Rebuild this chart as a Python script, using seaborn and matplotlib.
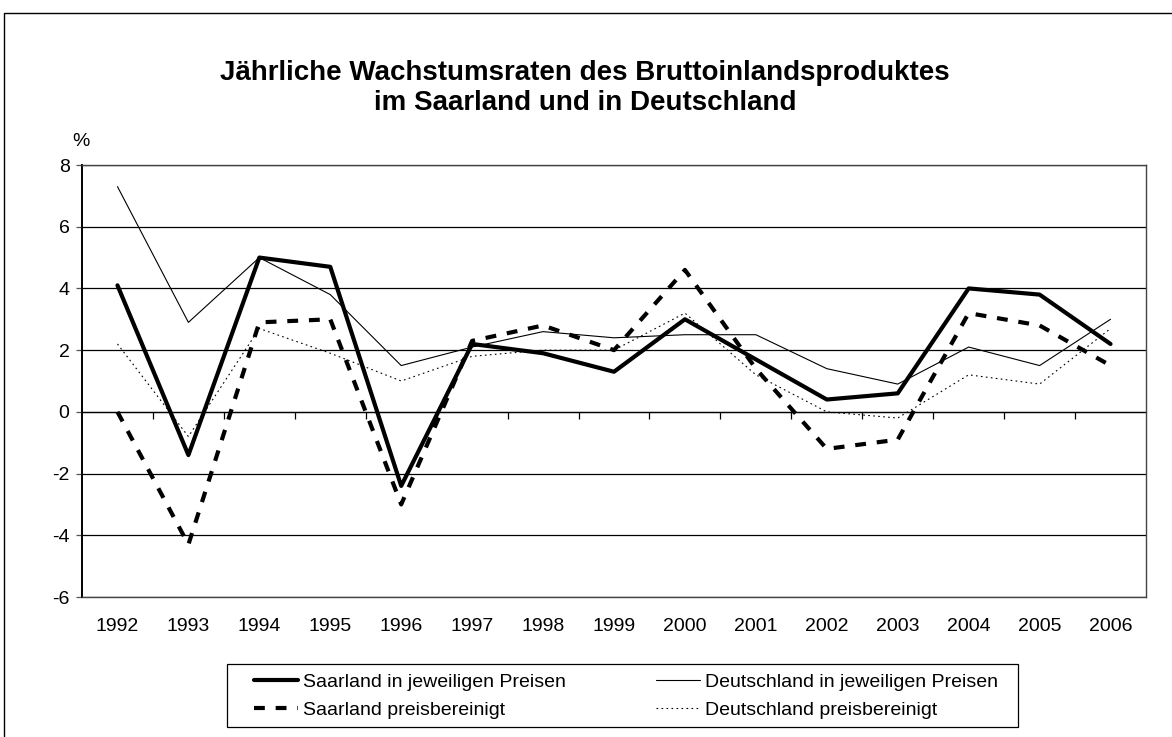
import matplotlib
matplotlib.use("Agg")
import matplotlib.pyplot as plt
import matplotlib.patches as mpatches
import seaborn as sns
import pandas as pd
import numpy as np

years = ["1992", "1993", "1994", "1995", "1996", "1997", "1998", "1999",
         "2000", "2001", "2002", "2003", "2004", "2005", "2006"]
saar_nominal = [4.1, -1.4, 5.0, 4.7, -2.4, 2.2, 1.9, 1.3, 3.0, 1.7, 0.4, 0.6, 4.0, 3.8, 2.2]
de_nominal = [7.3, 2.9, 5.0, 3.8, 1.5, 2.1, 2.6, 2.4, 2.5, 2.5, 1.4, 0.9, 2.1, 1.5, 3.0]
saar_real = [0.0, -4.3, 2.9, 3.0, -3.0, 2.3, 2.8, 2.0, 4.6, 1.4, -1.2, -0.9, 3.2, 2.8, 1.5]
de_real = [2.2, -0.8, 2.7, 1.9, 1.0, 1.8, 2.0, 2.0, 3.2, 1.2, 0.0, -0.2, 1.2, 0.9, 2.7]
labels = ["Saarland in jeweiligen Preisen", "Saarland preisbereinigt",
          "Deutschland in jeweiligen Preisen", "Deutschland preisbereinigt"]
title_lines = ["Jährliche Wachstumsraten des Bruttoinlandsproduktes",
               "im Saarland und in Deutschland"]
yticks = [-6, -4, -2, 0, 2, 4, 6, 8]

sns.set_theme(style="white")
plt.rcParams["font.family"] = ["Liberation Sans", "DejaVu Sans"]
plt.rcParams["text.color"] = "black"
plt.rcParams["xtick.color"] = "black"
plt.rcParams["ytick.color"] = "black"
plt.rcParams["xtick.labelcolor"] = "black"
plt.rcParams["ytick.labelcolor"] = "black"

W, H = 1172, 737
fig = plt.figure(figsize=(W / 100, H / 100), dpi=100)
ax = fig.add_axes([82 / W, 1 - 597 / H, (1146 - 82) / W, (597 - 165) / H])

pos = np.arange(len(years))
df = pd.DataFrame({"pos": pos, "sn": saar_nominal, "dn": de_nominal,
                   "sr": saar_real, "dr": de_real})

ax.set_ylim(-6, 8)
ax.set_xlim(-0.5, len(years) - 0.5)
for y in yticks:
    ax.axhline(y, color="black", lw=0.9, zorder=1)

sns.lineplot(data=df, x="pos", y="sn", ax=ax, color="black", lw=3.0,
             label=labels[0], zorder=5)
sns.lineplot(data=df, x="pos", y="sr", ax=ax, color="black", lw=3.0,
             label=labels[1], zorder=4, linestyle=(0, (2.6, 2.6)))
sns.lineplot(data=df, x="pos", y="dn", ax=ax, color="black", lw=0.8,
             label=labels[2], zorder=3)
sns.lineplot(data=df, x="pos", y="dr", ax=ax, color="black", lw=0.8,
             label=labels[3], zorder=3, linestyle=(0, (1.5, 3.0)))

ax.set_xticks(pos)
ax.set_xticklabels(years, fontsize=14)
ax.set_yticks(yticks)
ax.set_yticklabels([str(v) for v in yticks], fontsize=14)
ax.tick_params(axis="x", length=0, pad=15)
ax.tick_params(axis="y", length=4, width=0.9, color="#555555", pad=5, left=True, direction="out")
ax.set_xlabel("")
ax.set_ylabel("")

for s in ["top", "right", "bottom"]:
    ax.spines[s].set_color("#444444")
    ax.spines[s].set_linewidth(1.0)
ax.spines["left"].set_color("black")
ax.spines["left"].set_linewidth(1.4)

# category axis at y = 0 with tick marks between categories
sec = ax.secondary_xaxis(6 / 14)
sec.set_xticks(pos[:-1] + 0.5)
sec.set_xticklabels([""] * (len(years) - 1))
sec.tick_params(axis="x", length=5, width=0.9, color="black", direction="out", bottom=True)
sec.spines["bottom"].set_color("black")
sec.spines["bottom"].set_linewidth(0.9)

ax.get_legend().remove()
handles, hl = ax.get_legend_handles_labels()
leg = fig.legend(handles, hl, loc="center", bbox_to_anchor=(626 / W, 1 - 696 / H),
                 ncol=2, frameon=False,
                 fontsize=14, handlelength=2.3, handletextpad=0.25,
                 columnspacing=4.6, borderpad=0.35, labelspacing=0.55,
                 borderaxespad=0)
# legend frame box
fig.patches.append(mpatches.Rectangle((227 / W, 1 - 727 / H), (1018 - 227) / W, (727 - 664) / H,
                                      transform=fig.transFigure, fill=False,
                                      edgecolor="black", lw=0.9, figure=fig))

fig.text(585 / W, 1 - 80 / H, title_lines[0], ha="center", va="baseline",
         fontsize=20, fontweight="bold")
fig.text(585 / W, 1 - 110 / H, title_lines[1], ha="center", va="baseline",
         fontsize=20, fontweight="bold")
fig.text(81 / W, 1 - 141 / H, "%", ha="center", va="center", fontsize=14)

fig.patches.append(mpatches.Rectangle((4 / W, -0.1), 1.2, 1 - 13 / H + 0.1,
                                      transform=fig.transFigure, fill=False,
                                      edgecolor="black", lw=1.0, figure=fig))

fig.savefig("out.png", dpi=100)
